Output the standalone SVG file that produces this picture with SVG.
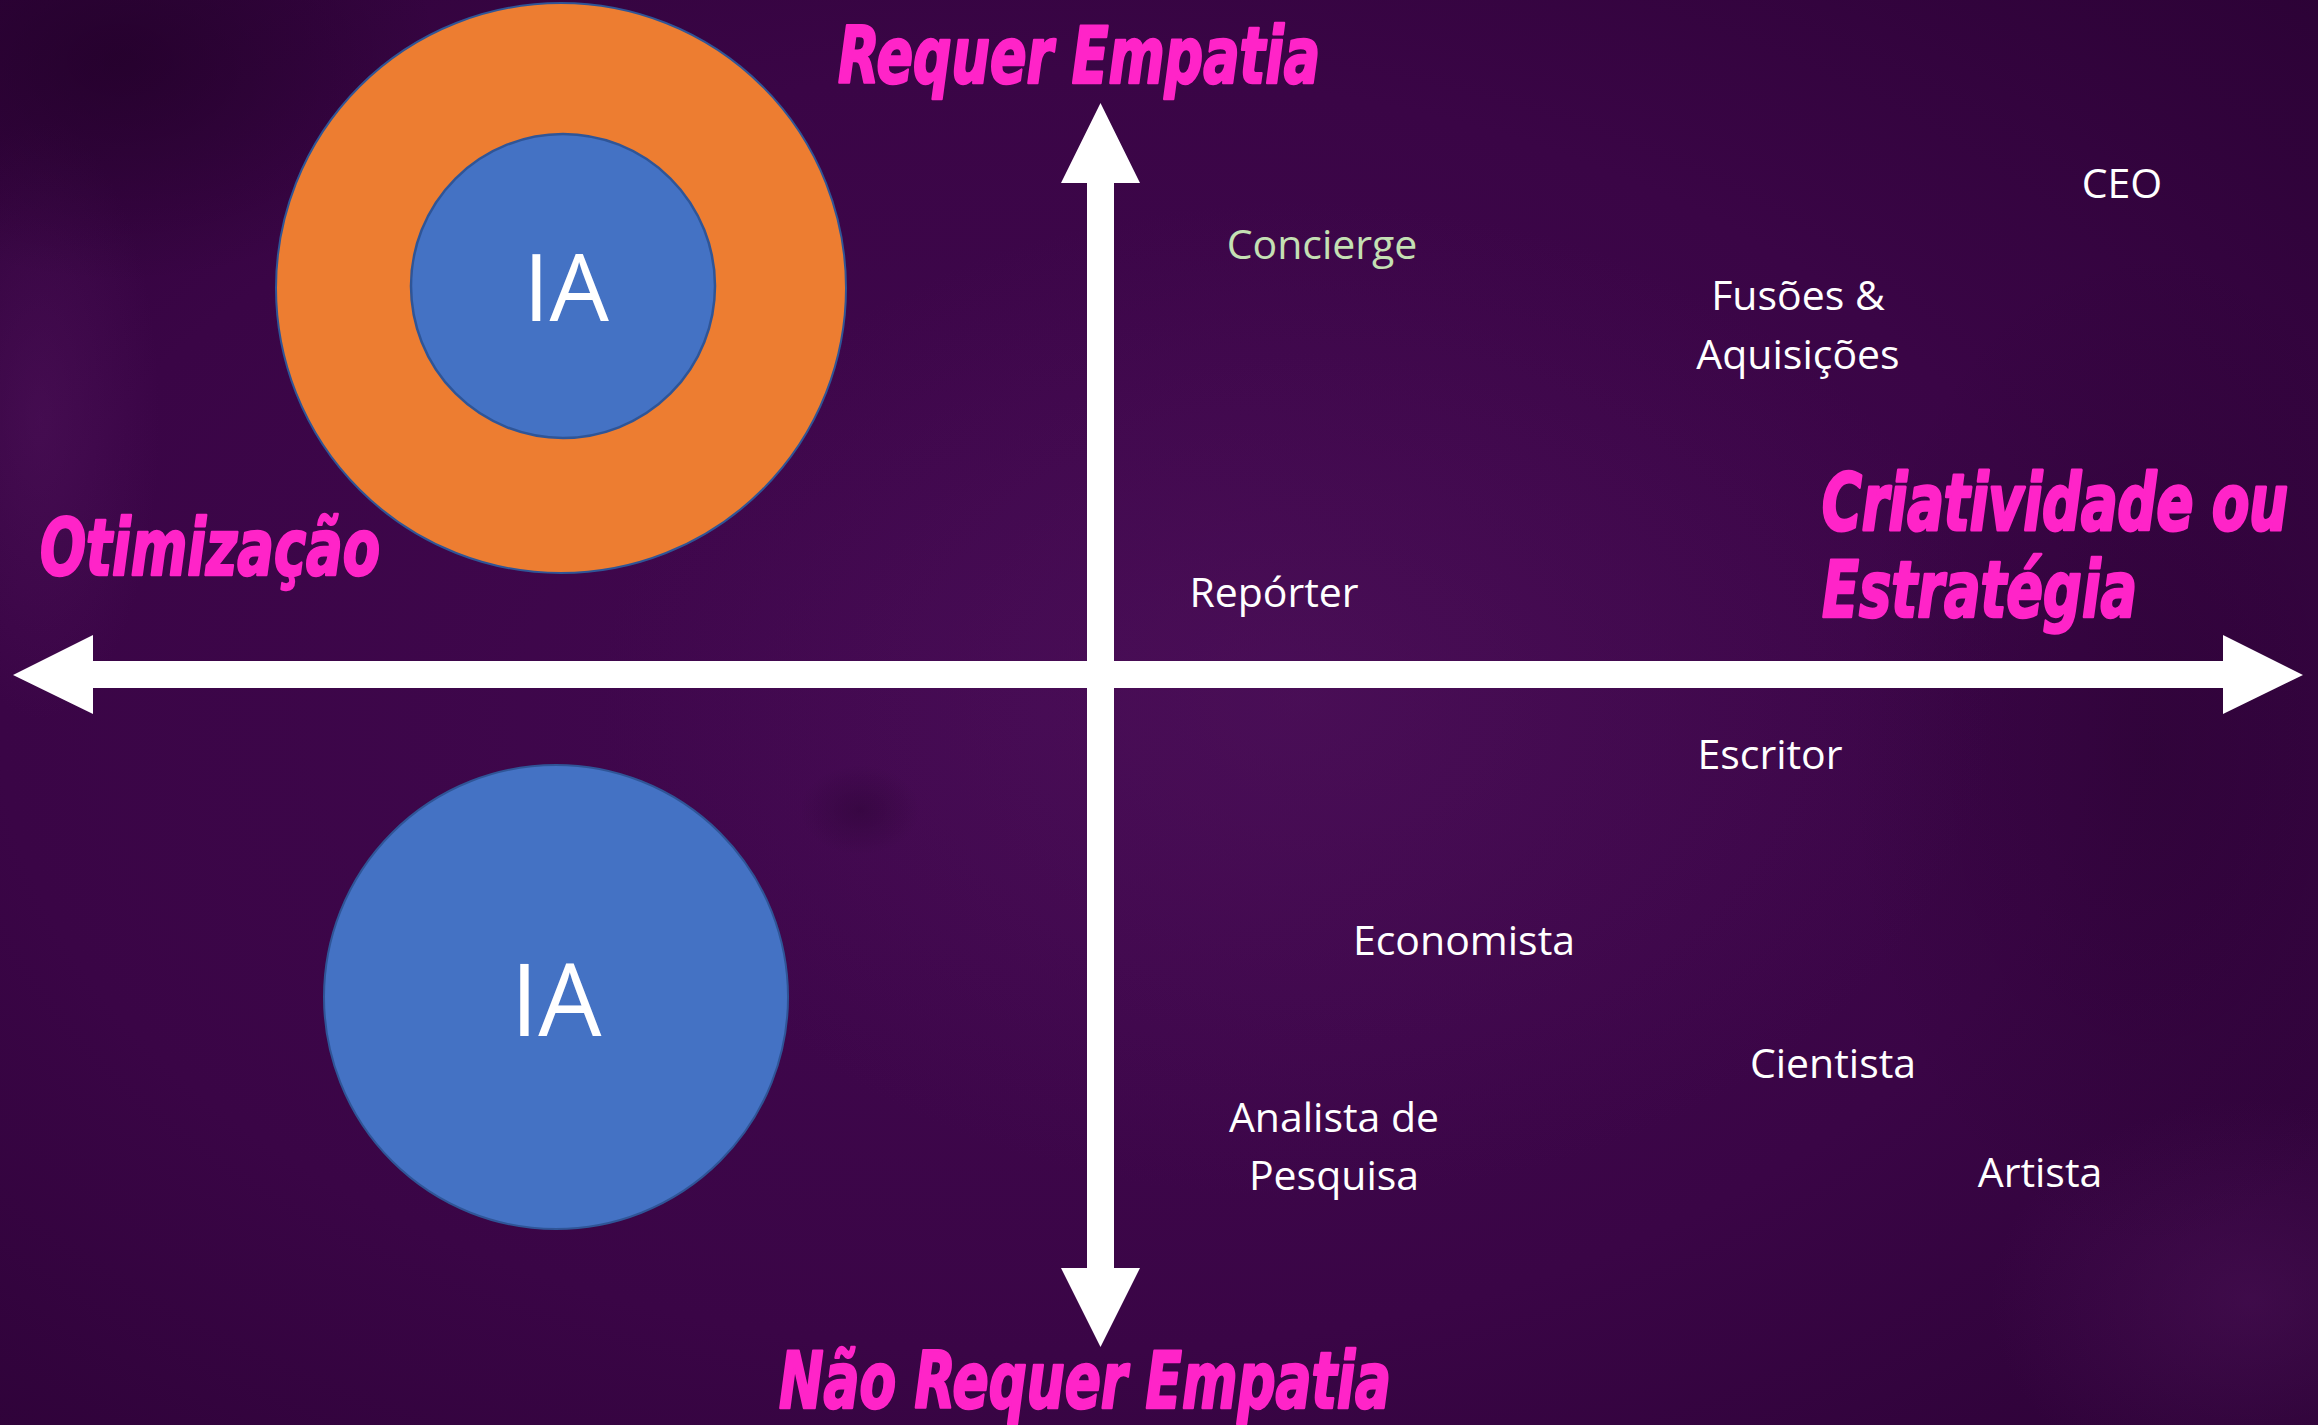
<svg xmlns="http://www.w3.org/2000/svg" width="2318" height="1425" viewBox="0 0 2318 1425">
<defs>
<radialGradient id="bg" cx="0.45" cy="0.5" r="0.75">
<stop offset="0" stop-color="#420850"/>
<stop offset="0.6" stop-color="#3a0546"/>
<stop offset="1" stop-color="#2c0236"/>
</radialGradient>
<radialGradient id="glow1" cx="0.5" cy="0.5" r="0.5">
<stop offset="0" stop-color="#5a1a66" stop-opacity="0.35"/>
<stop offset="1" stop-color="#5a1a66" stop-opacity="0"/>
</radialGradient>
<radialGradient id="dark1" cx="0.5" cy="0.5" r="0.5">
<stop offset="0" stop-color="#1e0024" stop-opacity="0.6"/>
<stop offset="1" stop-color="#1e0024" stop-opacity="0"/>
</radialGradient>
<radialGradient id="dark2" cx="0.5" cy="0.5" r="0.5">
<stop offset="0" stop-color="#1e0024" stop-opacity="0.3"/>
<stop offset="1" stop-color="#1e0024" stop-opacity="0"/>
</radialGradient>
<style>
.head{font-family:"Liberation Sans Narrow","DejaVu Sans Condensed","Liberation Sans",sans-serif;font-weight:bold;font-style:italic;fill:#ff24c8;stroke:#ff24c8;stroke-width:2.5;stroke-linejoin:round}
.lbl{font-family:"Open Sans","Noto Sans",sans-serif;font-size:41px;fill:#ffffff;text-anchor:middle}
.ia{font-family:"Open Sans","Noto Sans",sans-serif;fill:#ffffff;text-anchor:middle}
.arrow{fill:#ffffff}
</style>
</defs>
<g id="background">
<rect width="2318" height="1425" fill="url(#bg)"/>
<ellipse cx="1300" cy="700" rx="700" ry="500" fill="url(#glow1)"/>
<ellipse cx="2250" cy="1300" rx="260" ry="200" fill="url(#glow1)"/>
<ellipse cx="40" cy="420" rx="120" ry="300" fill="url(#glow1)"/>
<ellipse cx="120" cy="60" rx="320" ry="220" fill="url(#dark1)"/>
<ellipse cx="860" cy="810" rx="60" ry="45" fill="url(#dark2)"/>
<ellipse cx="2150" cy="750" rx="300" ry="500" fill="url(#dark2)"/>
</g>
<g id="connectors">
<polygon class="arrow" points="13,675 93,635 93,661 2223,661 2223,635 2303,675 2223,714 2223,688 93,688 93,714"/>
<polygon class="arrow" points="1100.5,103 1140,183 1114,183 1114,1268 1140,1268 1100.5,1347 1061,1268 1087,1268 1087,183 1061,183"/>
</g>
<g id="node-ia-top">
<circle cx="561" cy="288" r="285" fill="#ed7d31" stroke="#2f5597" stroke-width="2"/>
<circle cx="563" cy="286" r="152" fill="#4472c4" stroke="#2f5597" stroke-width="2.5"/>
<text class="ia" x="566" y="321" font-size="94">IA</text>
</g>
<g id="node-ia-bottom">
<circle cx="556" cy="997" r="232" fill="#4472c4" stroke="#2f5597" stroke-width="2"/>
<text class="ia" x="556" y="1036" font-size="100">IA</text>
</g>
<g id="axis-labels">
<text class="head" x="838" y="83" font-size="78" textLength="482" lengthAdjust="spacingAndGlyphs">Requer Empatia</text>
<text class="head" x="40" y="575" font-size="78" textLength="340" lengthAdjust="spacingAndGlyphs">Otimização</text>
<text class="head" transform="translate(1822,530) scale(1,1.22)" x="0" y="0" font-size="64" textLength="466" lengthAdjust="spacingAndGlyphs">Criatividade ou</text>
<text class="head" x="1822" y="617" font-size="78" textLength="315" lengthAdjust="spacingAndGlyphs">Estratégia</text>
<text class="head" x="779" y="1408" font-size="78" textLength="612" lengthAdjust="spacingAndGlyphs">Não Requer Empatia</text>
</g>
<g id="node-concierge"><text class="lbl" x="1322" y="259" style="fill:#c5e0b4">Concierge</text></g>
<g id="node-ceo"><text class="lbl" x="2122" y="198">CEO</text></g>
<g id="node-fusoes"><text class="lbl" x="1798" y="310">Fusões &amp;</text><text class="lbl" x="1798" y="369">Aquisições</text></g>
<g id="node-reporter"><text class="lbl" x="1274" y="607">Repórter</text></g>
<g id="node-escritor"><text class="lbl" x="1770" y="769">Escritor</text></g>
<g id="node-economista"><text class="lbl" x="1464" y="955">Economista</text></g>
<g id="node-cientista"><text class="lbl" x="1833" y="1078">Cientista</text></g>
<g id="node-analista"><text class="lbl" x="1334" y="1132">Analista de</text><text class="lbl" x="1334" y="1190">Pesquisa</text></g>
<g id="node-artista"><text class="lbl" x="2040" y="1187">Artista</text></g>
</svg>
